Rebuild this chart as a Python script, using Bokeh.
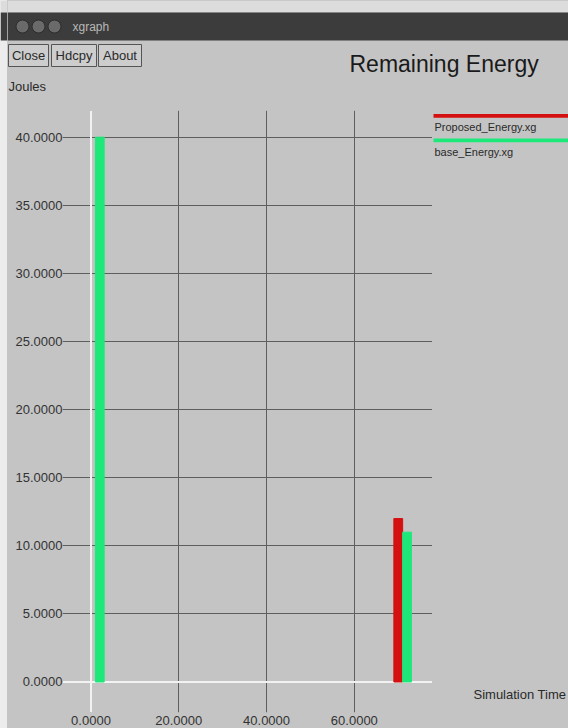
from bokeh.plotting import figure
from bokeh.layouts import row, column
from bokeh.models import FixedTicker, NumeralTickFormatter, Span, Range1d
from bokeh.core.properties import value
from bokeh.embed import file_html
from bokeh.resources import INLINE

# ---- data ----
proposed_x = [70.0]
proposed_y = [12.0]
base_x = [2.0, 72.0]
base_y = [40.0, 11.0]
x_ticks = [0, 20, 40, 60]
y_ticks = [0, 5, 10, 15, 20, 25, 30, 35, 40]
series_names = ["Proposed_Energy.xg", "base_Energy.xg"]
series_colors = ["#d41010", "#1ee87a"]
title_text = "Remaining Energy"
y_label = "Joules"
x_label = "Simulation Time"
button_names = ["Close", "Hdcpy", "About"]

BG = "#c4c4c4"
GRID = "#5e5e5e"
BAR_DARK = "#3c3c3c"
TOP_STRIP = "#dcdcdc"
EDGE = "#ececec"
FONT = "Liberation Sans"
TXT = "#2a2a2a"


def chrome_fig(w, h, xr, yr, bg):
    f = figure(width=w, height=h, x_range=Range1d(*xr), y_range=Range1d(*yr),
               output_backend="svg", toolbar_location=None,
               min_border=0, min_border_left=0, min_border_right=0,
               min_border_top=0, min_border_bottom=0,
               styles={"background-color": bg})
    f.axis.visible = False
    f.grid.visible = False
    f.outline_line_color = None
    f.background_fill_color = bg
    f.border_fill_color = bg
    return f


# ---- left white edge (canvas x 0..7) ----
strip = chrome_fig(7, 728, (0, 7), (728, 0), EDGE)
strip.quad(left=[0, 0], right=[7, 7], top=[0, 12], bottom=[12, 40],
           fill_color=[TOP_STRIP, BAR_DARK], line_color=None)

# ---- header (canvas x 7..568, y 0..104) ----
header = chrome_fig(561, 104, (7, 568), (104, 0), BG)
header.quad(left=[7, 7], right=[568, 568], top=[0, 12], bottom=[12, 40],
            fill_color=[TOP_STRIP, BAR_DARK], line_color=None)
header.circle(x=[22, 38, 54], y=[26, 26, 26], radius=6.5,
              fill_color="#6a6a6a", line_color="#2c2c2c", line_width=1)
header.text(x=[72], y=[26], text=["xgraph"], text_font=value(FONT), text_font_size="12px",
            text_color="#b8b8b8", text_align="left", text_baseline="middle")
btn_l = [8, 51, 98]
btn_r = [48, 96, 141]
header.quad(left=btn_l, right=btn_r, top=[44] * 3, bottom=[66] * 3,
            fill_color="#cdcdcd", line_color="#555555", line_width=1)
header.text(x=[(a + b) / 2 for a, b in zip(btn_l, btn_r)], y=[55] * 3, text=button_names,
            text_font=value(FONT), text_font_size="13px", text_color=TXT,
            text_align="center", text_baseline="middle")
header.text(x=[349], y=[63], text=[title_text], text_font=value(FONT), text_font_size="23px",
            text_color="#1a1a1a", text_align="left", text_baseline="middle")
header.text(x=[8], y=[86], text=[y_label], text_font=value(FONT), text_font_size="13px",
            text_color=TXT, text_align="left", text_baseline="middle")

# ---- main plot (canvas x 7..432, y 104..728; frame x 62..432, y 110..712) ----
p = figure(width=425, height=624, x_range=(-6.49, 77.8), y_range=(-2.24, 41.96),
           output_backend="svg", toolbar_location=None,
           min_border_left=55, min_border_right=0, min_border_top=6, min_border_bottom=16,
           styles={"background-color": BG})
p.background_fill_color = BG
p.border_fill_color = BG
p.outline_line_color = None

for ax in (p.xaxis[0], p.yaxis[0]):
    ax.axis_line_color = None
    ax.major_tick_line_color = None
    ax.minor_tick_line_color = None
    ax.major_tick_out = 0
    ax.major_tick_in = 0
    ax.minor_tick_out = 0
    ax.major_label_text_font = FONT
    ax.major_label_text_font_size = "13px"
    ax.major_label_text_color = "#333333"
    ax.formatter = NumeralTickFormatter(format="0.0000")
p.xaxis.ticker = FixedTicker(ticks=x_ticks)
p.yaxis.ticker = FixedTicker(ticks=y_ticks)
p.xaxis.major_label_standoff = 3
p.yaxis.major_label_standoff = 0

p.xgrid.ticker = FixedTicker(ticks=x_ticks)
p.ygrid.ticker = FixedTicker(ticks=y_ticks)
for g in (p.xgrid[0], p.ygrid[0]):
    g.grid_line_color = GRID
    g.grid_line_width = 1

p.add_layout(Span(location=0, dimension="height", line_color="#f2f2f2", line_width=2, level="underlay"))
p.add_layout(Span(location=0, dimension="width", line_color="#f2f2f2", line_width=2, level="underlay"))

p.vbar(x=proposed_x, top=proposed_y, bottom=0, width=2.0, color=series_colors[0])
p.vbar(x=base_x, top=base_y, bottom=0, width=2.0, color=series_colors[1])

# ---- right side: legend and x label (canvas x 432..568, y 104..728) ----
side = chrome_fig(136, 624, (432, 568), (728, 104), BG)
leg_y = [109.5, 135]
side.quad(left=[433, 433], right=[568, 568], top=[y - 2 for y in leg_y], bottom=[y + 2 for y in leg_y],
          fill_color=series_colors, line_color=None)
side.text(x=[434, 434], y=[y + 11.5 for y in leg_y], text=series_names, text_font=value(FONT),
          text_font_size="11px", text_color=TXT, text_align="left", text_baseline="middle")
side.text(x=[473], y=[709], text=[x_label], text_font=value(FONT), text_font_size="13px",
          text_color=TXT, text_align="left", text_baseline="middle")

layout = row(strip, column(header, row(p, side, spacing=0), spacing=0), spacing=0,
             styles={"background-color": BG})
open("out.html", "w").write(file_html(layout, INLINE))
